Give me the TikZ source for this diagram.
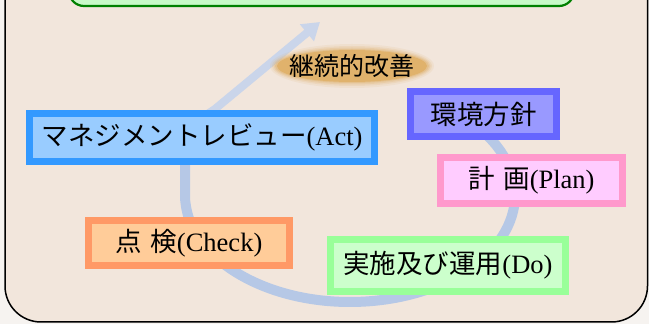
\documentclass[tikz,border=0pt]{standalone}
\usepackage{fontspec}
\setmainfont{Liberation Serif}
\newfontfamily\jp{Noto Sans CJK JP}[WordSpace=1.4]
\usetikzlibrary{arrows.meta,shapes.geometric}
\definecolor{bgout}{RGB}{246,243,240}
\definecolor{bgin}{RGB}{242,230,220}
\definecolor{grnfill}{RGB}{200,250,200}
\definecolor{grnline}{RGB}{0,128,0}
\definecolor{arcA}{RGB}{182,200,230}
\definecolor{arcB}{RGB}{202,213,234}
\definecolor{ellc}{RGB}{224,178,108}
\definecolor{actB}{RGB}{51,153,255}\definecolor{actF}{RGB}{153,204,255}
\definecolor{polB}{RGB}{102,102,255}\definecolor{polF}{RGB}{153,153,255}
\definecolor{plnB}{RGB}{255,153,204}\definecolor{plnF}{RGB}{255,204,255}
\definecolor{chkB}{RGB}{255,153,102}\definecolor{chkF}{RGB}{255,204,153}
\definecolor{doB}{RGB}{153,255,153}\definecolor{doF}{RGB}{204,255,204}
\tikzset{
  pdcabox/.style={draw, line width=7pt, inner sep=0pt, font=\fontsize{26.5}{28}\selectfont, text=black},
  spiral/.style={line width=10pt}
}
\begin{document}
\begin{tikzpicture}[x=1pt,y=1pt]
\useasboundingbox (0,0) rectangle (649,324);
\clip (0,0) rectangle (649,324);
\fill[bgout] (0,0) rectangle (649,324);
% outer frame
\draw[fill=bgin, line width=1.5pt, rounded corners=36pt] (5,2) rectangle (647.5,370);
% green box at top
\draw[fill=grnfill, draw=grnline, line width=2.2pt, rounded corners=15pt] (69,318) rectangle (574,360);
% spiral arrow
\coordinate (sc) at (350,129);
\draw[spiral, arcA] ([shift={(50:165 and 107)}]sc) arc[start angle=50, end angle=-180, x radius=165, y radius=107] -- (185,178);
\coordinate (tip) at (320,302);
\draw[spiral, line width=8pt, arcB, -{Triangle[length=17pt,width=21pt]}] (185,176) .. controls (185,196) and (200,205) .. (215,215) -- (tip);
% ellipse (continual improvement)
\foreach \s/\o in {12/0.12,8/0.18,5/0.25,2/0.4}{
  \fill[ellc, opacity=\o] (352,258) ellipse[x radius=76+\s/2, y radius=16+\s/2];
}
\node[ellipse, fill=ellc, minimum width=150pt, minimum height=32pt, inner sep=0pt] (kaizen) at (352,258) {};
\node[font=\fontsize{25}{27}\selectfont] at (kaizen) {\jp 継続的改善};
% boxes
\node[pdcabox, draw=actB, fill=actF, minimum width=345pt, minimum height=48pt] (act) at (202,186.5) {{\jp マネジメントレビュー}(Act)};
\node[pdcabox, draw=polB, fill=polF, minimum width=146pt, minimum height=45pt] (policy) at (483.5,210) {\jp 環境方針};
\node[pdcabox, draw=plnB, fill=plnF, minimum width=182pt, minimum height=46pt] (plan) at (531.5,143.5) {{\jp 計 画}(Plan)};
\node[pdcabox, draw=chkB, fill=chkF, minimum width=201pt, minimum height=45pt] (check) at (189,81) {{\jp 点 検}(Check)};
\node[pdcabox, draw=doB, fill=doF, minimum width=235pt, minimum height=52pt] (do) at (448,58.5) {{\jp 実施及び運用}(Do)};
\end{tikzpicture}
\end{document}
